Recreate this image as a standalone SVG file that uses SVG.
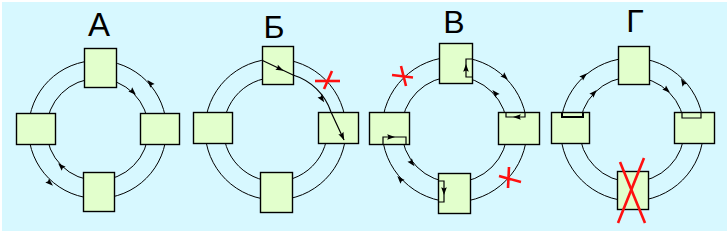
<svg xmlns="http://www.w3.org/2000/svg" xmlns:xlink="http://www.w3.org/1999/xlink" width="727" height="231" viewBox="0 0 727 231">
<style>
.bg{fill:#D7F8FF}
.box{fill:#E2FFCC;stroke:#000;stroke-width:1.4}
.ring{fill:none;stroke:#000;stroke-width:1}
.wire{fill:none;stroke:#000;stroke-width:1.2}
.wire2{fill:none;stroke:#000;stroke-width:2}
.ah{fill:#000}
.cross{fill:none;stroke:#FF1010;stroke-width:2.6}
.title{font-family:"Liberation Sans",Arial,sans-serif;font-size:32px;fill:#000;text-anchor:middle}
</style>
<defs>
<path id="ah" d="M4,0 L-3.8,-2.8 L-2.6,0 L-3.8,2.8 Z"/>
</defs>
<rect width="727" height="231" fill="#FFFFFF"/>
<rect class="bg" x="2" y="2" width="725" height="229"/>

<g id="titles">
<text class="title" x="99" y="36" style="font-size:33px">А</text>
<text class="title" x="274" y="38">Б</text>
<text class="title" x="454" y="33">В</text>
<text class="title" x="635" y="32">Г</text>
</g>

<g id="rings">
<circle class="ring" cx="97.5" cy="129.5" r="69"/>
<circle class="ring" cx="97.5" cy="129.5" r="51"/>
<circle class="ring" cx="275.5" cy="129.5" r="70.5"/>
<path class="ring" d="M324.5,112 A52,52 0 1 1 293,80.5"/>
<circle class="ring" cx="454.5" cy="129.5" r="72.5"/>
<circle class="ring" cx="454.5" cy="129.5" r="53"/>
<circle class="ring" cx="632" cy="129.5" r="71.5"/>
<circle class="ring" cx="632" cy="129.5" r="52.5"/>
</g>

<g id="node-A-top"><rect class="box" x="84.5" y="48.5" width="32" height="39"/></g>
<g id="node-A-left"><rect class="box" x="16.5" y="113.5" width="39" height="31"/></g>
<g id="node-A-right"><rect class="box" x="140.5" y="113.5" width="39" height="31"/></g>
<g id="node-A-bottom"><rect class="box" x="83.5" y="172.5" width="31" height="39"/></g>

<g id="node-B-top"><rect class="box" x="262.5" y="46.5" width="31" height="38"/></g>
<g id="node-B-left"><rect class="box" x="193.5" y="112.5" width="39" height="31"/></g>
<g id="node-B-right"><rect class="box" x="318.5" y="112.5" width="40" height="31"/></g>
<g id="node-B-bottom"><rect class="box" x="260.5" y="172.5" width="32" height="40"/></g>

<g id="node-V-top"><rect class="box" x="439.5" y="43.5" width="33" height="40"/></g>
<g id="node-V-left"><rect class="box" x="369.5" y="112.5" width="40" height="32"/></g>
<g id="node-V-right"><rect class="box" x="498.5" y="112.5" width="41" height="32"/></g>
<g id="node-V-bottom"><rect class="box" x="438.5" y="173.5" width="32" height="40"/></g>

<g id="node-G-top"><rect class="box" x="618.5" y="46.5" width="31" height="38"/></g>
<g id="node-G-left"><rect class="box" x="551.5" y="112.5" width="38" height="31"/></g>
<g id="node-G-right"><rect class="box" x="674.5" y="112.5" width="40" height="31"/></g>
<g id="node-G-bottom"><rect class="box" x="617.5" y="171.5" width="31" height="38"/></g>

<g id="connectors">
<!-- А -->
<use href="#ah" class="ah" transform="translate(150,83) rotate(-131.5)"/>
<use href="#ah" class="ah" transform="translate(133,92) rotate(43.4)"/>
<use href="#ah" class="ah" transform="translate(61,166) rotate(225)"/>
<use href="#ah" class="ah" transform="translate(50,183) rotate(41.6)"/>
<!-- Б -->
<path class="wire" d="M262,60.3 L293,75 A57.7,57.7 0 0 1 331,112 L344,140"/>
<use href="#ah" class="ah" transform="translate(280,69) rotate(25.8)"/>
<use href="#ah" class="ah" transform="translate(322,99) rotate(56.5)"/>
<use href="#ah" class="ah" transform="translate(342.5,136.5) rotate(65)"/>
<!-- В -->
<polyline class="wire" points="472,59 466,59 466,77 472,77"/>
<polyline class="wire" points="525,112 525,117 506,117 506,112"/>
<polyline class="wire" points="383,144 383,137 406,137 406,144"/>
<polyline class="wire" points="438,181 444,181 444,202 438,202"/>
<use href="#ah" class="ah" transform="translate(466,68) rotate(-90)"/>
<use href="#ah" class="ah" transform="translate(517,117) rotate(180)"/>
<use href="#ah" class="ah" transform="translate(391,137) rotate(0)"/>
<use href="#ah" class="ah" transform="translate(444,191) rotate(90)"/>
<use href="#ah" class="ah" transform="translate(505,77) rotate(44)"/>
<use href="#ah" class="ah" transform="translate(495,93) rotate(-132)"/>
<use href="#ah" class="ah" transform="translate(412,163) rotate(51.8)"/>
<use href="#ah" class="ah" transform="translate(400,179) rotate(227.8)"/>
<!-- Г -->
<polyline class="wire2" points="562,112 562,117 583,117 583,112"/>
<polyline class="wire" points="682,112 682,118 701,118 701,112"/>
<use href="#ah" class="ah" transform="translate(584,76) rotate(-41.9)"/>
<use href="#ah" class="ah" transform="translate(594,93) rotate(-46)"/>
<use href="#ah" class="ah" transform="translate(667,90) rotate(41.5)"/>
<use href="#ah" class="ah" transform="translate(683,82) rotate(-120)"/>
</g>

<g id="crosses">
<line class="cross" x1="315" y1="81" x2="340" y2="81"/>
<line class="cross" x1="332" y1="71" x2="324" y2="89"/>
<line class="cross" x1="392" y1="75" x2="413" y2="77.5"/>
<line class="cross" x1="401" y1="66" x2="406" y2="86"/>
<line class="cross" x1="499" y1="176" x2="521" y2="182"/>
<line class="cross" x1="509" y1="167" x2="508" y2="188"/>
<line class="cross" x1="620" y1="162" x2="645" y2="223"/>
<line class="cross" x1="644" y1="158" x2="618" y2="223"/>
</g>
</svg>
